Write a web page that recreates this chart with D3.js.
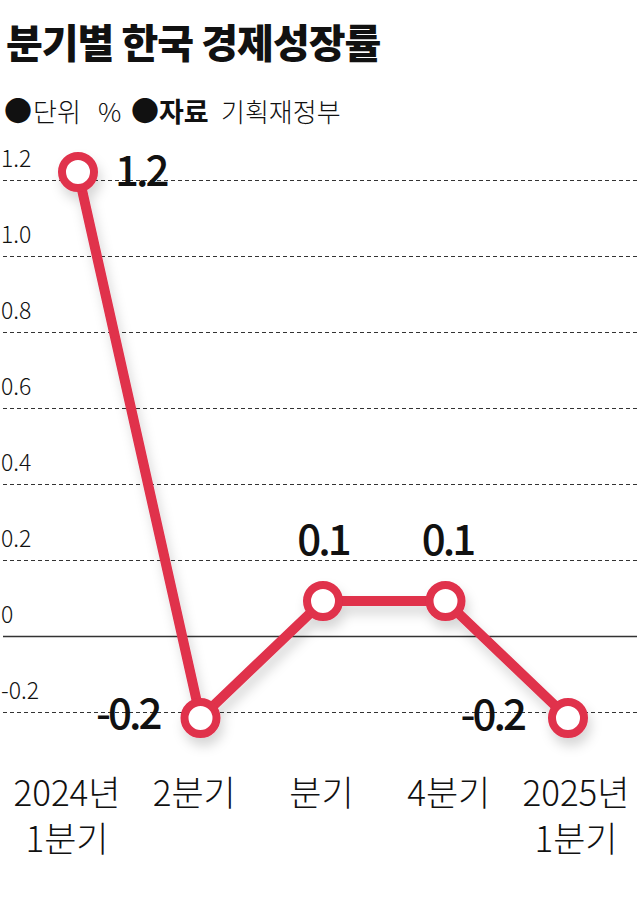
<!DOCTYPE html>
<html>
<head>
<meta charset="utf-8">
<script src="https://cdn.jsdelivr.net/npm/d3@7"></script>
<style>
  body { margin: 0; background: #fff; }
  svg { display: block; font-family: 'Noto Sans CJK KR', sans-serif; }
</style>
</head>
<body>
<svg id="chart" width="640" height="907"></svg>
<script>
'use strict';

const quarters = [['2024년', '1분기'], ['2분기'], ['분기'], ['4분기'], ['2025년', '1분기']];
const growth = [1.2, -0.2, 0.1, 0.1, -0.2];
const yTicks = [-0.2, 0, 0.2, 0.4, 0.6, 0.8, 1.0, 1.2];

(function () {
    const svg = d3.select('#chart');
    const red = '#e0304c';
    const fmt = d => d === 0 ? '0' : d.toFixed(1);

    const x = d3.scalePoint()
        .domain(d3.range(growth.length))
        .range([78, 568]);
    // category labels sit on their own, slightly wider spacing
    const xLabel = d3.scalePoint()
        .domain(d3.range(growth.length))
        .range([67, 576]);
    // grid scale
    const y = d3.scaleLinear()
        .domain([-0.2, 1.2])
        .range([712, 180]);
    // the line is drawn on a slightly stretched scale, as in the original
    const yLine = d3.scaleLinear()
        .domain([-0.2, 1.2])
        .range([718, 172]);

    // title
    svg.append('text')
        .attr('x', 6).attr('y', 58)
        .attr('font-size', 40).attr('font-weight', 900)
        .attr('letter-spacing', -1)
        .attr('fill', '#111')
        .text('분기별 한국 경제성장률');

    const sub = svg.append('text')
        .attr('y', 122)
        .attr('fill', '#111');
    sub.append('tspan').attr('x', 4).attr('font-size', 28).text('●');
    sub.append('tspan').attr('x', 33).attr('font-size', 26).attr('font-weight', 300).text('단위');
    sub.append('tspan').attr('x', 98).attr('font-size', 26).attr('font-weight', 300).text('%');
    sub.append('tspan').attr('x', 131).attr('font-size', 28).text('●');
    sub.append('tspan').attr('x', 159).attr('font-size', 27).attr('font-weight', 700).text('자료');
    sub.append('tspan').attr('x', 221).attr('font-size', 26).attr('font-weight', 300).text('기획재정부');

    const defs = svg.append('defs');
    const f = defs.append('filter').attr('id', 'shadow')
        .attr('x', '-20%').attr('y', '-20%').attr('width', '140%').attr('height', '140%');
    f.append('feDropShadow')
        .attr('dx', 3).attr('dy', 8).attr('stdDeviation', 6)
        .attr('flood-color', '#000').attr('flood-opacity', 0.16);

    // grid
    const grid = svg.append('g');
    grid.selectAll('line')
        .data(yTicks)
        .enter().append('line')
        .attr('x1', 3).attr('x2', 637)
        .attr('y1', d => Math.round(y(d)) + 0.5)
        .attr('y2', d => Math.round(y(d)) + 0.5)
        .attr('stroke', '#333')
        .attr('stroke-width', d => d === 0 ? 1.3 : 1)
        .attr('stroke-dasharray', d => d === 0 ? null : '4,3');
    grid.selectAll('text')
        .data(yTicks)
        .enter().append('text')
        .attr('x', 1)
        .attr('y', d => y(d) - 13)
        .attr('font-size', 23).attr('font-weight', 300)
        .attr('fill', '#111')
        .text(fmt);

    // line
    const line = d3.line()
        .x((d, i) => x(i))
        .y(d => yLine(d));
    const series = svg.append('g').attr('filter', 'url(#shadow)');
    series.append('path')
        .datum(growth)
        .attr('d', line)
        .attr('fill', 'none')
        .attr('stroke', red)
        .attr('stroke-width', 10)
        .attr('stroke-linejoin', 'round');
    series.selectAll('circle')
        .data(growth)
        .enter().append('circle')
        .attr('cx', (d, i) => x(i))
        .attr('cy', d => yLine(d))
        .attr('r', 16)
        .attr('fill', '#fff')
        .attr('stroke', red)
        .attr('stroke-width', 8);

    // value labels
    const labelPos = [
        { dx: 37, dy: 14, anchor: 'start' },
        { dx: -41, dy: 11, anchor: 'end' },
        { dx: 0, dy: -46, anchor: 'middle' },
        { dx: 2, dy: -46, anchor: 'middle' },
        { dx: -44, dy: 12, anchor: 'end' }
    ];
    svg.append('g').selectAll('text')
        .data(growth)
        .enter().append('text')
        .attr('x', (d, i) => x(i) + labelPos[i].dx)
        .attr('y', (d, i) => yLine(d) + labelPos[i].dy)
        .attr('text-anchor', (d, i) => labelPos[i].anchor)
        .attr('font-size', 42).attr('font-weight', 500)
        .attr('letter-spacing', -3)
        .attr('fill', '#111')
        .text(fmt);

    // x labels
    const xl = svg.append('g').selectAll('text')
        .data(quarters)
        .enter().append('text')
        .attr('x', (d, i) => xLabel(i))
        .attr('y', 806)
        .attr('text-anchor', 'middle')
        .attr('font-size', 35).attr('font-weight', 300)
        .attr('fill', '#111');
    xl.selectAll('tspan')
        .data(d => d)
        .enter().append('tspan')
        .attr('x', function () { return d3.select(this.parentNode).attr('x'); })
        .attr('dy', (d, i) => i === 0 ? 0 : 46)
        .text(d => d);
}());
</script>
</body>
</html>
